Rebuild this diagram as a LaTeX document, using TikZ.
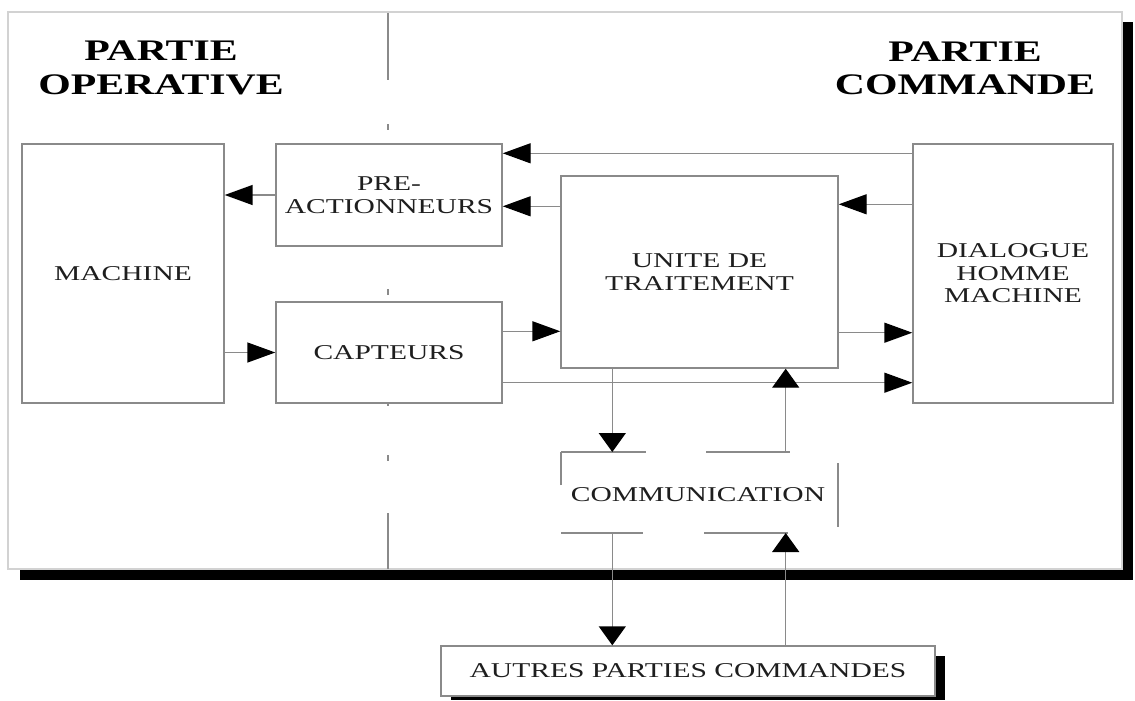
\documentclass[tikz,border=0pt]{standalone}
\usepackage{fontspec}
\usepackage{tikz}
\usetikzlibrary{arrows.meta,calc}
\newfontfamily\diagfont[FakeStretch=1.4]{Liberation Serif}
\definecolor{linegray}{HTML}{8A8A8A}
\definecolor{inkgray}{HTML}{1E1E1E}
\tikzset{
    box/.style = {draw=linegray, line width=0.8pt, fill=white, inner sep=0pt,
        align=center, text=inkgray, font=\diagfont\fontsize{12}{12.8}\selectfont},
    title/.style = {align=center, text=black, font=\diagfont\bfseries\fontsize{17}{19}\selectfont},
    link/.style = {draw=linegray, line width=0.8pt},
    harrow/.style = {link, -{Triangle[length=0.56cm, width=0.4cm, color=black]}},
    varrow/.style = {link, -{Triangle[length=0.38cm, width=0.54cm, color=black]}}
}

\begin{document}
\begin{tikzpicture}[x=0.02cm,y=-0.02cm]
        \useasboundingbox[fill=white] (0,0) rectangle (1135,700);

        % cadre avec ombre
        \fill[black] (20,22) rectangle (1133,580);
        \path[fill=white, draw=gray!35, line width=0.6pt] (8,12) rectangle (1122,569);

        % separation
        \path[every edge/.append style=link]
            (388,13) edge (388,80)
            (388,124) edge (388,130)
            (388,289) edge (388,295)
            (388,400) edge (388,406)
            (388,455) edge (388,461)
            (388,513) edge (388,569)
        ;

        \node[title] (po) at (161,68) {PARTIE\\OPERATIVE};
        \node[title] (pc) at (965,68) {PARTIE\\COMMANDE};

        \node[box, minimum width=202*0.02cm, minimum height=259*0.02cm] (mach) at (123,273.5) {MACHINE};
        \node[box, minimum width=226*0.02cm, minimum height=102*0.02cm] (preact) at (389,195) {PRE-\\ACTIONNEURS};
        \node[box, minimum width=226*0.02cm, minimum height=101*0.02cm] (capt) at (389,352.5) {CAPTEURS};
        \node[box, minimum width=277*0.02cm, minimum height=192*0.02cm] (unite) at (699.5,272) {UNITE DE\\TRAITEMENT};
        \node[box, minimum width=200*0.02cm, minimum height=259*0.02cm] (dial) at (1013,273.5) {DIALOGUE\\HOMME\\MACHINE};

        % bloc communication (cadre ouvert)
        \node[box, draw=none, fill=none] (comm) at (698,495) {COMMUNICATION};
        \coordinate (cnw) at (561,452);
        \coordinate (cse) at (838,533);
        \path[every edge/.append style=link]
            (561,485) edge (cnw)
            (cnw) edge (646,452)
            (706,452) edge (790,452)
            (838,463) edge (838,527)
            (561,533) edge (643,533)
            (704,533) edge (788,533)
        ;

        \fill[black] (451,656) rectangle (945,700);
        \node[box, minimum width=494*0.02cm, minimum height=50*0.02cm] (autres) at (688,671) {AUTRES PARTIES COMMANDES};

        % niveaux des liaisons
        \coordinate (y1) at ($(dial.north west)+(0,10)$);
        \coordinate (y2) at ($(unite.north west)+(0,31)$);
        \coordinate (y3) at ($(capt.north east)+(0,30)$);
        \coordinate (y4) at ($(capt.south east)+(0,-21)$);
        \coordinate (y5) at ($(dial.north west)+(0,61)$);
        \coordinate (y6) at ($(unite.south east)+(0,-36)$);
        \coordinate (xd) at ($(unite.south west)+(52,0)$);
        \coordinate (xu) at ($(unite.south east)+(-53,0)$);

        % liaisons horizontales
        \path[every edge/.append style=harrow]
            (preact.west) edge (preact.west -| mach.east)
            (mach.east |- capt.west) edge (capt.west)
            (y1) edge (preact.east |- y1)
            (y2) edge (preact.east |- y2)
            (y3) edge (unite.west |- y3)
            (y4) edge (dial.west |- y4)
            (y5) edge (unite.east |- y5)
            (y6) edge (dial.west |- y6)
        ;

        % liaisons verticales
        \path[every edge/.append style=varrow]
            (xd) edge (xd |- cnw)
            (xu |- cnw) edge (xu)
            (xd |- cse) edge (xd |- autres.north)
            (xu |- autres.north) edge (xu |- cse)
        ;
    \end{tikzpicture}
\end{document}
